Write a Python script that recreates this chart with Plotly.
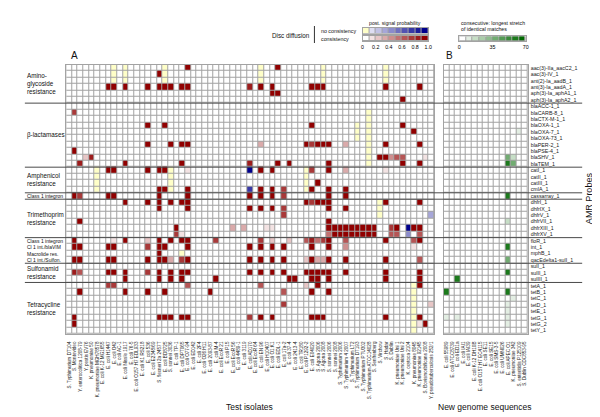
import plotly.graph_objects as go

W, H = 600, 417

# ---------------- data ----------------
probes = ["aac(3)-IIa_aacC2_1", "aac(3)-IV_1", "ant(2)-Ia_aadB_1", "ant(3)-Ia_aadA_1",
          "aph(3)-Ia_aphA1_1", "aph(3)-Ia_aphA2_1",
          "blaACC-1_1", "blaCARB-8_1", "blaCTX-M-1_1", "blaOXA-1_1", "blaOXA-7_1",
          "blaOXA-73_1", "blaPER-2_1", "blaPSE-4_1", "blaSHV_1", "blaTEM_1",
          "catI_1", "catII_1", "catIII_1", "cmlA_1", "cassarray_1",
          "dhfrI_1", "dhfrIX_1", "dhfrV_1", "dhfrVII_1", "dhfrXIII_1", "dhfrXV_1",
          "floR_1", "int_1", "mphB_1", "qacEdelta1-sulI_1",
          "sulI_1", "sulII_1", "sulIII_1",
          "tetA_1", "tetB_1", "tetC_1", "tetD_1", "tetE_1", "tetG_1", "tetG_2", "tetY_1"]

test_isolates = [
    "S. Typhimurium DT104", "S. Montevideo", "Y. enterocolitica 1208-79", "Y. pestis EV76",
    "K. pneumoniae 50", "K. pneumoniae MGH78578", "E. coli K-12 MG1655", "E. coli H1447",
    "E. coli O42", "E. coli AC-1", "E. coli Nissle 1917", "E. coli 76-5",
    "E. coli O157:H7 EDL933", "E. coli K1 RS218", "E. coli 536", "E. coli E2348/69",
    "S. flexneri 2a 2457T", "E. coli BD8725", "S. sonnei 3036", "E. coli TP-1",
    "E. coli DPT065", "E. coli O77-94", "E. coli ED142", "E. coli 2F4",
    "E. coli O26:H11", "E. coli 2093-87", "E. coli M-4", "E. coli EcoR 21",
    "E. coli P15", "E. coli EcoR 56", "E. coli 4489-1", "E. coli 3119",
    "E. coli AD170", "E. coli EcoR 64", "E. coli EN 96", "E. coli H10407",
    "E. coli O1:K1", "E. coli EDL-1", "E. coli 17a-2", "E. coli 37-4",
    "E. coli 2413-4", "E. coli TR180", "E. coli P1292-2", "E. coli E04020",
    "S. Agona 2006", "S. Agona 2008", "S. sonnei 2006", "S. sonnei 2008",
    "S. Typhimurium 2006", "S. Typhimurium 4 2007", "S. Typhimurium LT2", "S. Typhimurium DT193",
    "S. Typhimurium PTU302", "S. Typhimurium ATCC14028", "S. Senftenberg", "S. Virchow",
    "S. Hadar", "S. Dublin", "K. pneumoniae Uni 1", "K. pneumoniae Uni 2",
    "K. oxytoca 2104", "K. pneumoniae 8045", "K. pneumoniae 92145", "S. Bovismorbificans 2008",
    "Y. pseudotuberculosis 252/1"]

new_genomes = ["E. coli 55989", "E. coli ATCC8739", "E. coli ED1a", "E. coli IAI1",
               "E. coli IAI39", "E. coli K-12 DH10B", "E. coli O157:H7 EC4115", "E. coli SE11",
               "E. coli SE15", "E. coli SMS-3-5", "E. coli UMN026", "E. coli APEC O1",
               "K. pneumoniae 342", "S. enteritidis P125109", "S. Dublin CDC853-95"]

# Panel A: "col=p" -> consistency with posterior probability p,
#          "col=nq" -> no consistency with posterior probability q
disc_cells = [
    "8=n0 10=n0 17=n0 34=n0 45=n0 56=n0 21=1 37=1",
    "8=n0 10=n0 17=n0 34=n0 45=n0 56=n0 16=1",
    "8=n0 10=n0 17=n0 34=n0 45=n0 56=n0",
    "7=1 8=1 10=1 14=1 16=1 17=1 18=1 20=1 21=1 32=.8 34=1 36=1 43=1 44=1 45=1 56=1 62=1",
    "36=1 37=1",
    "59=1",
    "",
    "1=.7 53=n0",
    "53=n0",
    "14=1 17=1 43=1 59=1 51=n0 53=n0",
    "61=1 51=n0 53=n0",
    "51=n0 53=n0",
    "14=1 18=1 20=1 21=1 34=.3 42=1 43=.7 44=1 45=1 46=1 49=.3 56=1 62=1 53=n0",
    "1=1 53=n0",
    "3=.2 4=.8 55=1 56=1 57=.4 58=.6 59=.6 63=.15 53=n0",
    "2=.8 10=1 20=1 32=.8 37=1 39=1 46=1 59=1 62=1 53=n0",
    "7=1 8=1 14=1 16=1 17=1 21=.1 32=n1 34=1 36=1 43=.7 46=1 49=.3 56=.15 5=n0 18=n0 42=n0",
    "5=n0 18=n0 42=n0",
    "44=1 5=n0 18=n0 42=n0",
    "16=1 17=1 21=1 32=n.7 34=1 36=1 38=.7 43=1 46=1 49=1 5=n0 18=n0 42=n0",
    "1=1 2=.7 7=1 8=1 16=1 21=1 32=1 34=1 36=1 38=.7 46=1 49=1",
    "10=1 14=1 16=1 18=1 20=1 21=1 42=1 43=.7 44=1 45=1 46=1 56=1 62=1 55=n0",
    "16=1 21=1 32=1 34=1 36=1 38=.7 46=1 49=1 55=n0",
    "38=.7 55=n0 64=n.3",
    "2=1 46=1",
    "19=1 29=.3 31=.3 35=.15 36=.1 46=1 47=1 48=1 49=1 50=1 51=1 52=1 53=1 54=1 57=.7 58=1 60=n1 61=1 62=1",
    "19=.7 20=.1 46=.5 47=1 48=1 49=1 50=1 51=1 52=1 53=1 54=1 57=.6 58=.6 60=n.4 62=.6",
    "1=1 8=.1 10=1 14=.2 16=1 18=1 20=1 21=1 26=.7 34=.7 36=.2 39=.2 42=.6 43=.8 44=.5 45=.7 46=1 49=.6 56=1 61=.6 62=1",
    "1=1 2=1 7=1 8=1 14=.7 16=1 17=1 21=1 32=1 34=1 36=1 38=1 43=1 46=1 49=.4 61=.15",
    "16=1 20=n0",
    "1=1 2=1 7=1 8=1 14=1 16=1 17=1 18=.3 20=.7 21=1 32=1 34=1 36=1 38=1 42=.2 43=1 44=.3 45=.3 46=1 49=1 56=1 62=.6",
    "",
    "1=.8 2=.6 7=1 8=1 10=1 14=.7 16=1 18=1 20=1 21=1 32=1 34=1 36=1 38=1 42=1 43=1 44=1 45=1 46=1 49=1 56=1 62=1",
    "10=1 16=1 18=1 20=1 26=1 39=1 40=1 43=1 44=1 46=1 56=1 62=1",
    "7=.7 8=.7 21=.6 34=.6 42=.2 44=1 62=1 61=n0",
    "2=1 10=1 14=1 17=1 25=1 38=.6 43=1 46=1 61=n0",
    "61=n0",
    "38=.7 64=.25 61=n0",
    "61=n0",
    "1=1 16=1 17=1 18=1 20=1 21=1 32=.7 34=1 36=1 43=1 44=1 45=1 56=1 62=1 61=n0",
    "1=1 62=.15 63=1 61=n0",
    "61=n0",
]

# Panel B: "col=v" -> longest stretch of identical matches (0..70)
stretch_cells = [
    "", "", "", "", "", "", "", "", "", "",
    "13=8", "2=6", "", "", "11=40 12=15", "11=62 12=35", "", "", "", "",
    "0=6 1=6 2=6 3=6 4=6 5=6 6=6 7=6 8=6 9=6 10=6 11=62 12=6 13=6 14=6",
    "", "", "", "11=15", "", "", "", "11=62", "", "11=40", "",
    "2=6 11=62", "2=60", "", "0=60 11=62", "12=8", "11=8", "11=8", "0=8 2=8 11=8", "11=8", "",
]

separators = [6, 16, 20, 21, 27, 31, 34]   # row boundaries with a dark line
prob_ticks = [0, 0.2, 0.4, 0.6, 0.8, 1.0]
stretch_ticks = [0, 35, 70]
n_levels = 10

# ---------------- colours ----------------
def mix(c0, c1, t):
    return "rgb(%d,%d,%d)" % tuple(round(a + (b - a) * t) for a, b in zip(c0, c1))

palette = []
for i in range(n_levels):                       # 0-9 consistency
    palette.append(mix((255, 255, 255), (145, 0, 0), i / 9))
for i in range(n_levels):                       # 10-19 no consistency
    palette.append("rgb(255,255,200)" if i == 0 else mix((222, 222, 242), (0, 0, 140), (i - 1) / 8))
for i in range(n_levels):                       # 20-29 stretch
    palette.append(mix((255, 255, 255), (0, 105, 0), i / 9))
NC = len(palette)
cscale = []
for i, c in enumerate(palette):
    cscale += [[i / NC, c], [(i + 1) / NC, c]]

def level(v, vmax):
    return min(n_levels - 1, int(v / vmax * n_levels + 1e-9))

def build_disc(rows, ncol):
    z = []
    for r in rows:
        line = [0] * ncol
        for tok in r.split():
            c, v = tok.split("=")
            if v.startswith("n"):
                line[int(c)] = 10 + level(float(v[1:]), 1.0)
            else:
                line[int(c)] = level(float(v), 1.0)
        z.append(line)
    return z

def build_stretch(rows, ncol):
    z = []
    for r in rows:
        line = [20] * ncol
        for tok in r.split():
            c, v = tok.split("=")
            line[int(c)] = 20 + level(float(v), 70.0)
        z.append(line)
    return z

nA, nB, nR = len(test_isolates), len(new_genomes), len(probes)
zA = build_disc(disc_cells, nA)
zB = build_stretch(stretch_cells, nB)

# ---------------- geometry (pixels) ----------------
def fx(px): return px / W
def fy(py): return 1 - py / H

GRID_T, GRID_B = 56.7, 325.7
A_L, A_R = 57.7, 428.7
B_L, B_R = 438.3, 523.0
FONT = "Liberation Sans, Arial, sans-serif"
GRID = "#a3a3a3"

fig = go.Figure()
common = dict(colorscale=cscale, zmin=-0.5, zmax=NC - 0.5, showscale=False,
              xgap=1, ygap=1, hoverinfo="skip")
fig.add_trace(go.Heatmap(z=zA, x=list(range(nA)), y=list(range(nR)), xaxis="x", yaxis="y", **common))
fig.add_trace(go.Heatmap(z=zB, x=list(range(nB)), y=list(range(nR)), xaxis="x2", yaxis="y2", **common))

# legend strips
centers = [(i + 0.5) / n_levels for i in range(n_levels)]
fig.add_trace(go.Heatmap(z=[[10 + i for i in range(n_levels)]], x=centers, y=[0], xaxis="x3", yaxis="y3", **common))
fig.add_trace(go.Heatmap(z=[[i for i in range(n_levels)]], x=centers, y=[0], xaxis="x4", yaxis="y4", **common))
fig.add_trace(go.Heatmap(z=[[20 + i for i in range(n_levels)]], x=[c * 70 for c in centers], y=[0],
                         xaxis="x5", yaxis="y5", **common))

frame = dict(showline=True, mirror=True, linecolor=GRID, linewidth=1, showgrid=False,
             zeroline=False, ticks="", fixedrange=True)
gy = [fy(GRID_B), fy(GRID_T)]
fig.update_layout(
    width=W, height=H, margin=dict(l=0, r=0, t=0, b=0),
    paper_bgcolor="white", plot_bgcolor=GRID, showlegend=False,
    font=dict(family=FONT, color="black"),
    xaxis=dict(domain=[fx(A_L), fx(A_R)], range=[-0.5, nA - 0.5], anchor="y",
               tickmode="array", tickvals=list(range(nA)), ticktext=test_isolates,
               tickangle=-90, tickfont=dict(size=4.6, color="#222"), ticklabelstandoff=5, **frame),
    yaxis=dict(domain=gy, range=[nR - 0.5, -0.5], anchor="x", showticklabels=False, **frame),
    xaxis2=dict(domain=[fx(B_L), fx(B_R)], range=[-0.5, nB - 0.5], anchor="y2",
                tickmode="array", tickvals=list(range(nB)), ticktext=new_genomes,
                tickangle=-90, tickfont=dict(size=4.6, color="#222"), ticklabelstandoff=5, **frame),
    yaxis2=dict(domain=gy, range=[nR - 0.5, -0.5], anchor="x2", side="right",
                tickmode="array", tickvals=list(range(nR)), ticktext=probes,
                tickfont=dict(size=5.3, color="#222"), ticklabelstandoff=1, **frame),
    xaxis3=dict(domain=[fx(356.5), fx(422.8)], range=[0, 1], anchor="y3", showticklabels=False, **frame),
    yaxis3=dict(domain=[fy(25.7), fy(20)], range=[-0.5, 0.5], anchor="x3", showticklabels=False, **frame),
    xaxis4=dict(domain=[fx(356.5), fx(422.8)], range=[0, 1], anchor="y4",
                tickmode="array", tickvals=prob_ticks, ticktext=["0", "0.2", "0.4", "0.6", "0.8", "1.0"],
                tickfont=dict(size=5.3), ticklabelstandoff=0, **frame),
    yaxis4=dict(domain=[fy(33.3), fy(28)], range=[-0.5, 0.5], anchor="x4", showticklabels=False, **frame),
    xaxis5=dict(domain=[fx(454), fx(521)], range=[0, 70], anchor="y5",
                tickmode="array", tickvals=stretch_ticks, ticktext=[str(t) for t in stretch_ticks],
                tickfont=dict(size=5.3), ticklabelstandoff=0, **frame),
    yaxis5=dict(domain=[fy(33.3), fy(28.3)], range=[-0.5, 0.5], anchor="x5", showticklabels=False, **frame),
)

shapes = []
for k in separators:
    shapes.append(dict(type="line", xref="paper", yref="y", x0=fx(16), x1=fx(578),
                       y0=k - 0.5, y1=k - 0.5, line=dict(color="#4a4a4a", width=1)))
shapes.append(dict(type="line", xref="paper", yref="paper", x0=fx(308), x1=fx(308),
                   y0=fy(35), y1=fy(18), line=dict(color="#333", width=1)))
fig.update_layout(shapes=shapes)

ann = []
def text(x, y, s, size, xanchor="left", angle=0):
    ann.append(dict(x=fx(x), y=fy(y), xref="paper", yref="paper", text=s,
                    showarrow=False, xanchor=xanchor, yanchor="middle", align="left", textangle=angle,
                    font=dict(size=size, family=FONT, color="#111")))

def row_text(r, s, size):
    ann.append(dict(x=fx(16.5), y=r, xref="paper", yref="y", text=s, showarrow=False,
                    xanchor="left", yanchor="middle", align="left",
                    font=dict(size=size, family=FONT, color="#111")))

groups = [("Amino-<br>glycoside<br>resistance", 0, 5), ("β-lactamases", 6, 15),
          ("Amphenicol<br>resistance", 16, 19), ("Trimethoprim<br>resistance", 21, 26),
          ("Sulfonamid<br>resistance", 31, 33), ("Tetracycline<br>resistance", 34, 41)]
for s, r0, r1 in groups:
    row_text((r0 + r1) / 2, s, 6.3)
small = [("Class 1 integron", 20), ("Class 1 integron", 27), ("Cl 1 int./blaVIM", 28),
         ("Macrolide res.", 29), ("Cl 1 int./Sulfon.", 30)]
for s, r in small:
    row_text(r, s, 5.0)

text(60, 47.5, "A", 10)
text(439, 47.5, "B", 10)
text(243, 399, "Test isolates", 8.5, xanchor="center")
text(480, 399, "New genome sequences", 8.5, xanchor="center")
text(585, 190, "AMR Probes", 9, xanchor="center", angle=-90)
text(263, 27, "Disc diffusion", 6.3)
text(313, 22.6, "no consistency", 5.3)
text(313, 31, "consistency", 5.3)
text(389.6, 15, "post. signal probability", 5.2, xanchor="center")
text(454, 14.7, "consecutive: longest stretch", 5.2)
text(454, 21, "of identical matches", 5.2)
fig.update_layout(annotations=ann)

fig.write_html("out.html")
